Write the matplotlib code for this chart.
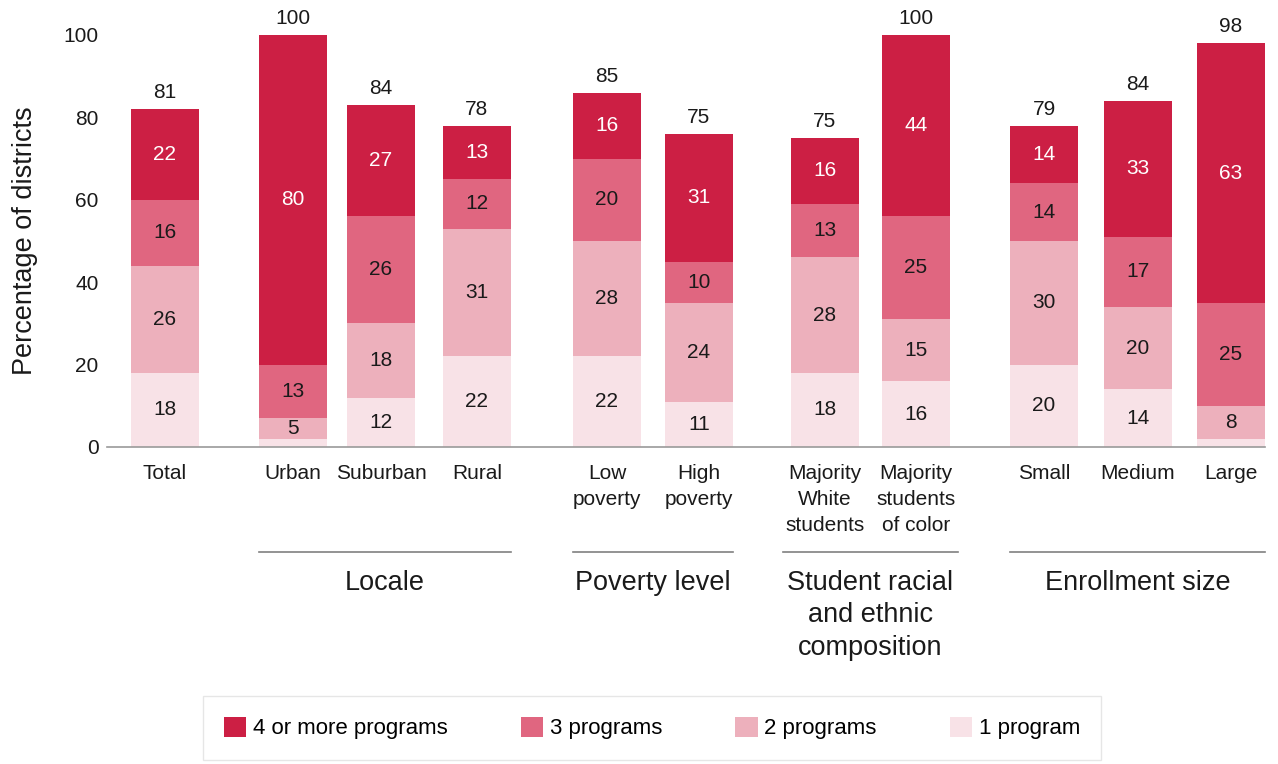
import numpy as np
import matplotlib
matplotlib.use("Agg")
import matplotlib.pyplot as plt
from matplotlib.patches import Patch

plt.rcParams['font.family'] = ['Liberation Sans', 'DejaVu Sans']

# data
categories = ['Total', 'Urban', 'Suburban', 'Rural', 'Low\npoverty', 'High\npoverty',
              'Majority\nWhite\nstudents', 'Majority\nstudents\nof color',
              'Small', 'Medium', 'Large']
one_prog = [18, 2, 12, 22, 22, 11, 18, 16, 20, 14, 2]
two_prog = [26, 5, 18, 31, 28, 24, 28, 15, 30, 20, 8]
three_prog = [16, 13, 26, 12, 20, 10, 13, 25, 14, 17, 25]
four_prog = [22, 80, 27, 13, 16, 31, 16, 44, 14, 33, 63]
totals = [81, 100, 84, 78, 85, 75, 75, 100, 79, 84, 98]
groups = ['Locale', 'Poverty level', 'Student racial\nand ethnic\ncomposition', 'Enrollment size']
group_members = [[1, 2, 3], [4, 5], [6, 7], [8, 9, 10]]
series_names = ['1 program', '2 programs', '3 programs', '4 or more programs']

# layout (bar centres in pixel-like units)
xpos = np.array([165, 293, 381, 477, 607, 699, 825, 916, 1044, 1138, 1231])
bw = 68
colors = ['#F8E2E7', '#EDB0BC', '#E06680', '#CC1F44']
txt_colors = ['#1a1a1a', '#1a1a1a', '#1a1a1a', 'white']

fig = plt.figure(figsize=(12.78, 7.64), dpi=100)
ax = fig.add_axes([107/1278, 317/764, 1158/1278, 412/764])

series = [one_prog, two_prog, three_prog, four_prog]
bottom = np.zeros(len(categories))
for vals, c, tc in zip(series, colors, txt_colors):
    vals = np.array(vals, dtype=float)
    ax.bar(xpos, vals, bw, bottom=bottom, color=c, linewidth=0)
    for x, b, v in zip(xpos, bottom, vals):
        if v >= 3:
            ax.text(x, b + v/2, f'{v:.0f}', ha='center', va='center', color=tc, fontsize=15)
    bottom += vals

for x, top, t in zip(xpos, bottom, totals):
    ax.annotate(str(t), (x, top), xytext=(0, 5), textcoords='offset points',
                ha='center', va='bottom', fontsize=15, color='#1a1a1a')

ax.set_xlim(107, 1265)
ax.set_ylim(0, 100)
ax.set_yticks(range(0, 101, 20))
ax.set_xticks(xpos)
ax.set_xticklabels(categories, linespacing=1.48)
ax.tick_params(axis='both', length=0, labelsize=15, colors='#1a1a1a')
ax.tick_params(axis='x', pad=12)
ax.tick_params(axis='y', pad=6)
for s in ['top', 'right', 'left']:
    ax.spines[s].set_visible(False)
ax.spines['bottom'].set_color('#9a9a9a')
ax.spines['bottom'].set_linewidth(1.2)
ax.set_ylabel('Percentage of districts', fontsize=19.5, color='#1a1a1a')
ax.yaxis.set_label_coords(-0.060, 0.5)

# group brackets
trans = ax.get_xaxis_transform()
for name, idx in zip(groups, group_members):
    x0 = xpos[idx[0]] - bw/2
    x1 = xpos[idx[-1]] + bw/2
    if 'racial' in name:
        x0 -= 8
        x1 += 8
    ax.plot([x0, x1], [-0.255, -0.255], color='#808080', lw=1.2, transform=trans, clip_on=False)
    ax.text((x0 + x1)/2, -0.298, name, ha='center', va='top', fontsize=19.5,
            linespacing=1.33, color='#1a1a1a', transform=trans)

handles = [Patch(facecolor=c, edgecolor='none') for c in colors[::-1]]
leg = fig.legend(handles, series_names[::-1], ncol=4, loc='center',
                 bbox_to_anchor=(652/1278, 36/764), fontsize=16,
                 frameon=True, fancybox=False, handlelength=1.0, handleheight=1.0,
                 handletextpad=0.3, columnspacing=3.3, borderpad=0.95, borderaxespad=0)
leg.get_frame().set_edgecolor('#e0e0e0')
leg.get_frame().set_linewidth(1.0)

fig.savefig('out.png', dpi=100)
